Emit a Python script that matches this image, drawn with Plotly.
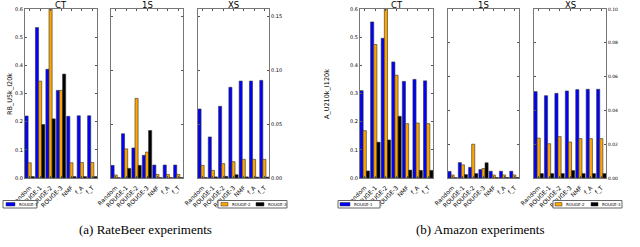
import plotly.graph_objects as go

# ---------------- data ----------------
categories = ["Random", "ROUGE-1", "ROUGE-2", "ROUGE-3", "NMF", "f_A", "f_T"]
series_names = ["ROUGE-1", "ROUGE-2", "ROUGE-3"]
panel_titles = ["CT", "1S", "XS"]

# RateBeer experiments
rb_ct_r1 = [0.220, 0.534, 0.386, 0.311, 0.219, 0.221, 0.221]
rb_ct_r2 = [0.054, 0.344, 0.600, 0.311, 0.054, 0.055, 0.055]
rb_ct_r3 = [0.005, 0.190, 0.210, 0.369, 0.005, 0.005, 0.005]
rb_1s_r1 = [0.0117, 0.0410, 0.0278, 0.0210, 0.0120, 0.0120, 0.0120]
rb_1s_r2 = [0.0028, 0.0270, 0.0737, 0.0240, 0.0033, 0.0033, 0.0033]
rb_1s_r3 = [0.0003, 0.0089, 0.0117, 0.0440, 0.0004, 0.0004, 0.0004]
rb_xs_r1 = [0.0639, 0.0380, 0.0664, 0.0840, 0.0898, 0.0898, 0.0904]
rb_xs_r2 = [0.0117, 0.0071, 0.0133, 0.0151, 0.0173, 0.0173, 0.0173]
rb_xs_r3 = [0.0005, 0.0010, 0.0015, 0.0030, 0.0010, 0.0008, 0.0008]

# Amazon experiments
am_ct_r1 = [0.310, 0.554, 0.496, 0.412, 0.343, 0.350, 0.345]
am_ct_r2 = [0.168, 0.474, 0.600, 0.365, 0.193, 0.195, 0.193]
am_ct_r3 = [0.025, 0.127, 0.135, 0.219, 0.028, 0.027, 0.027]
am_1s_r1 = [0.0039, 0.0091, 0.0063, 0.0050, 0.0040, 0.0040, 0.0040]
am_1s_r2 = [0.0018, 0.0078, 0.0200, 0.0056, 0.0018, 0.0018, 0.0018]
am_1s_r3 = [0.0002, 0.0020, 0.0026, 0.0090, 0.0003, 0.0003, 0.0003]
am_xs_r1 = [0.0511, 0.0487, 0.0501, 0.0515, 0.0523, 0.0525, 0.0525]
am_xs_r2 = [0.0236, 0.0203, 0.0245, 0.0213, 0.0233, 0.0233, 0.0233]
am_xs_r3 = [0.0026, 0.0026, 0.0026, 0.0044, 0.0026, 0.0026, 0.0026]

rb_ylabel = "RB_U5k_I20k"
am_ylabel = "A_U210k_I120k"
captions = ["(a) RateBeer experiments", "(b) Amazon experiments"]

# ---------------- layout helpers ----------------
W, H = 640, 247
def px(x):
    return x / W
def py(y):
    return 1 - y / H

colors = ["#0000ff", "#ffa500", "#000000"]
offsets = [-0.45, -0.15, 0.15]
bar_w = 0.3

panels = [
    ([rb_ct_r1, rb_ct_r2, rb_ct_r3], (25, 97), [0, 0.6], "ct"),
    ([rb_1s_r1, rb_1s_r2, rb_1s_r3], (111, 183), [0, 0.1565], "1s"),
    ([rb_xs_r1, rb_xs_r2, rb_xs_r3], (198, 269), [0, 0.1565], "xs_rb"),
    ([am_ct_r1, am_ct_r2, am_ct_r3], (360, 433), [0, 0.6], "ct"),
    ([am_1s_r1, am_1s_r2, am_1s_r3], (448, 519), [0, 0.10], "1s"),
    ([am_xs_r1, am_xs_r2, am_xs_r3], (534, 606), [0, 0.10], "xs_am"),
]

fig = go.Figure()
layout = dict(
    width=W, height=H,
    margin=dict(l=0, r=0, t=0, b=0, pad=0, autoexpand=False),
    paper_bgcolor="white", plot_bgcolor="white",
    barmode="overlay", showlegend=False, hovermode=False,
    font=dict(family="DejaVu Sans", color="black"),
)

ydom = [py(178), py(9)]
annotations = []
shapes = []
for i, (series, (x0, x1), yr, kind) in enumerate(panels):
    n = i + 1
    xa = "x" if n == 1 else f"x{n}"
    ya = "y" if n == 1 else f"y{n}"
    for s, vals in enumerate(series):
        fig.add_trace(go.Bar(
            x=categories, y=vals, xaxis=xa, yaxis=ya,
            name=series_names[s], offset=offsets[s], width=bar_w,
            marker=dict(color=colors[s], line=dict(color="#333333", width=0.6)),
        ))
    layout["xaxis" if n == 1 else f"xaxis{n}"] = dict(
        domain=[px(x0), px(x1)], anchor=ya, range=[-0.45, 6.45],
        type="category", tickangle=-45, tickfont=dict(size=6),
        ticklabelstandoff=3,
        ticks="inside", ticklen=2, tickcolor="#555", mirror="ticks",
        showline=True, linecolor="#777", linewidth=1, showgrid=False,
        zeroline=False, automargin=False, fixedrange=True,
    )
    yax = dict(
        domain=ydom, anchor=xa, range=yr, showgrid=False, zeroline=False,
        ticks="inside", ticklen=2, tickcolor="#555", mirror="ticks",
        showline=True, linecolor="#777", linewidth=1, tickfont=dict(size=5),
        automargin=False, fixedrange=True,
    )
    if kind == "ct":
        yax.update(dtick=0.1, tickformat=".1f", side="left")
    elif kind == "1s":
        yax.update(dtick=0.05 if yr[1] > 0.12 else 0.02, showticklabels=False)
    elif kind == "xs_rb":
        yax.update(dtick=0.05, tickformat=".2f", side="right")
    else:
        yax.update(dtick=0.02, tickformat=".2f", side="right", tickfont=dict(size=4.5))
    layout["yaxis" if n == 1 else f"yaxis{n}"] = yax
    annotations.append(dict(
        x=px((x0 + x1) / 2), y=py(4.5), xref="paper", yref="paper",
        text=panel_titles[i % 3], showarrow=False, font=dict(size=8.5),
        xanchor="center", yanchor="middle",
    ))

def note(x, y, text, size, **kw):
    d = dict(x=px(x), y=py(y), xref="paper", yref="paper", text=text,
             showarrow=False, xanchor="center", yanchor="middle",
             font=dict(size=size, family=kw.pop("family", "DejaVu Sans")))
    d.update(kw)
    annotations.append(d)

# y-axis labels
note(10, 94, rb_ylabel, 6.5, textangle=-90)
note(327, 94, am_ylabel, 6.5, textangle=-90)

# captions
note(145, 229, captions[0], 13, family="Liberation Serif")
note(480, 229, captions[1], 13, family="Liberation Serif")

# legends (drawn boxes)
def legend_box(bx0, bx1, items):
    shapes.append(dict(type="rect", xref="paper", yref="paper",
                       x0=px(bx0), x1=px(bx1), y0=py(208), y1=py(200.5),
                       line=dict(color="#666", width=1), fillcolor="white"))
    for sx0, sx1, col, label in items:
        shapes.append(dict(type="rect", xref="paper", yref="paper",
                           x0=px(sx0), x1=px(sx1), y0=py(206), y1=py(202.5),
                           line=dict(color="#333", width=0.5), fillcolor=col))
        note(sx1 + 1.5, 204.3, label, 4, xanchor="left")

legend_box(3, 37, [(6, 15, colors[0], series_names[0])])
legend_box(218, 287, [(221, 228, colors[1], series_names[1]),
                      (256, 264, colors[2], series_names[2])])
legend_box(338, 380, [(340, 350, colors[0], series_names[0])])
legend_box(553, 622, [(555, 562, colors[1], series_names[1]),
                      (591, 598, colors[2], series_names[2])])

layout["annotations"] = annotations
layout["shapes"] = shapes
fig.update_layout(**layout)
fig.write_html("out.html", config={"displayModeBar": False, "staticPlot": True},
               post_script="document.body.style.margin='0px';")
